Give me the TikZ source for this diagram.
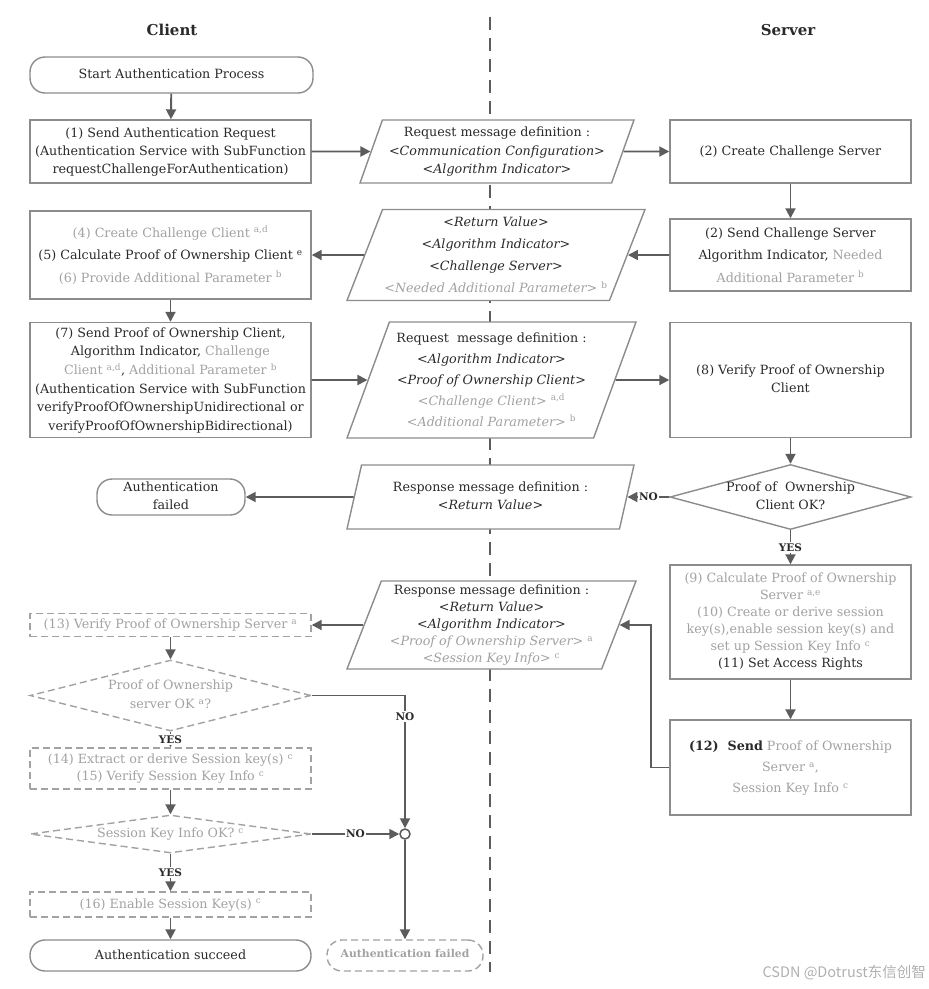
\documentclass[tikz,border=0pt]{standalone}
\usepackage{fontspec}
\setmainfont{DejaVu Serif}
\newfontfamily\cjkfont{Noto Sans CJK SC}
\usetikzlibrary{shapes.geometric,arrows.meta}
\definecolor{tdark}{HTML}{2A2A2A}
\definecolor{tgray}{HTML}{A2A2A2}
\definecolor{bord}{HTML}{8C8C8C}
\definecolor{arrc}{HTML}{5C5C5C}
\newcommand\gr[1]{{\color{tgray}#1}}
\newcommand\sps[1]{\textsuperscript{#1}}
\newcommand\ctext[1]{\makebox[0pt]{\begin{tabular}{@{}c@{}}#1\end{tabular}}}
\begin{document}
\begin{tikzpicture}[x=1pt,y=-1pt,
  every node/.style={text=tdark, inner sep=0pt},
  fs/.style={font=\fontsize{12.7}{#1}\selectfont},
  box/.style={draw=bord, line width=1.4pt, rectangle, fill=white},
  dbox/.style={box, draw=tgray, dash pattern=on 7pt off 4pt},
  term/.style={box, rounded corners=15pt},
  pgram/.style={draw=bord, line width=1.4pt, fill=white, trapezium,
    trapezium left angle=68, trapezium right angle=112, trapezium stretches body},
  dia/.style={draw=bord, line width=1.4pt, fill=white, diamond},
  ddia/.style={dia, draw=tgray, dash pattern=on 7pt off 4pt},
  arr/.style={draw=arrc, line width=1.9pt, -{Triangle[length=10pt,width=10pt]}},
  lbl/.style={fill=white, inner sep=1.5pt, font=\fontsize{10.5}{11}\selectfont\bfseries},
  divider/.style={draw=arrc, line width=1.3pt, dash pattern=on 13pt off 8pt},
  title/.style={font=\fontsize{15}{18}\selectfont\bfseries}
]
\useasboundingbox (0,0) rectangle (929,989);

% divider between client and server
\coordinate (divtop) at (490,17);
\coordinate (divbot) at (490,972);
\draw[divider] (divtop) -- (divbot);

% titles
\node[title] (tclient) at (172,30) {Client};
\node[title] (tserver) at (788,30) {Server};

% client side, top
\node[term, fs=18, minimum width=283, minimum height=36] (start) at (171.5,75)
  {\ctext{Start Authentication Process}};
\node[box, fs=18, minimum width=281, minimum height=63] (b1) at (170.5,151.5)
  {\ctext{(1) Send Authentication Request\\(Authentication Service with SubFunction\\requestChallengeForAuthentication)}};
\node[pgram, fs=18.5, minimum width=274, minimum height=63] (p1) at (497,151.5)
  {\ctext{Request message definition :\\\textit{<Communication Configuration>}\\\textit{<Algorithm Indicator>}}};
\node[box, fs=18, minimum width=241, minimum height=63] (b2a) at (790.5,151.5)
  {\ctext{(2) Create Challenge Server}};
\node[box, fs=22.5, minimum width=241, minimum height=72] (b2b) at (790.5,255)
  {\ctext{(2) Send Challenge Server\\Algorithm Indicator, \gr{Needed}\\\gr{Additional Parameter \sps{b}}}};
\node[pgram, fs=22, minimum width=298, minimum height=91] (p2) at (496,255)
  {\ctext{\textit{<Return Value>}\\\textit{<Algorithm Indicator>}\\\textit{<Challenge Server>}\\\gr{\textit{<Needed Additional Parameter>} \sps{b}}}};
\node[box, fs=22.5, minimum width=281, minimum height=88] (b46) at (170.5,255)
  {\ctext{\gr{(4) Create Challenge Client \sps{a,d}}\\(5) Calculate Proof of Ownership Client \sps{e}\\\gr{(6) Provide Additional Parameter \sps{b}}}};
\node[box, fs=18.6, minimum width=281, minimum height=115] (b7) at (170.5,380)
  {\ctext{(7) Send Proof of Ownership Client,\\Algorithm Indicator, \gr{Challenge}\\\gr{Client \sps{a,d}}, \gr{Additional Parameter \sps{b}}\\(Authentication Service with SubFunction\\verifyProofOfOwnershipUnidirectional or\\verifyProofOfOwnershipBidirectional)}};
\node[pgram, fs=21, minimum width=289, minimum height=116] (p3) at (491.5,380)
  {\ctext{Request\ \ message definition :\\\textit{<Algorithm Indicator>}\\\textit{<Proof of Ownership Client>}\\\gr{\textit{<Challenge Client>} \sps{a,d}}\\\gr{\textit{<Additional Parameter>} \sps{b}}}};
\node[box, fs=18, minimum width=241, minimum height=115] (b8) at (790.5,380)
  {\ctext{(8) Verify Proof of Ownership\\Client}};
\node[dia, fs=18, minimum width=241, minimum height=65] (d1) at (790.5,497)
  {\ctext{Proof of\ \ Ownership\\Client OK?}};
\node[pgram, fs=18, minimum width=287, minimum height=64] (p4) at (490.5,497)
  {\ctext{Response message definition :\\\textit{<Return Value>}}};
\node[term, fs=18, minimum width=148, minimum height=33] (af1) at (171,497)
  {\ctext{Authentication\\failed}};
\node[box, fs=17, minimum width=241, minimum height=114] (b911) at (790.5,622)
  {\ctext{\gr{(9) Calculate Proof of Ownership}\\\gr{Server \sps{a,e}}\\\gr{(10) Create or derive session}\\\gr{key(s),enable session key(s) and}\\\gr{set up Session Key Info \sps{c}}\\(11) Set Access Rights}};
\node[box, fs=21, minimum width=241, minimum height=95] (b12) at (790.5,767.5)
  {\ctext{\textbf{(12)\ \ Send} \gr{Proof of Ownership}\\\gr{Server \sps{a},}\\\gr{Session Key Info \sps{c}}}};
\node[pgram, fs=17, minimum width=289, minimum height=88] (p5) at (491.5,625)
  {\ctext{Response message definition :\\\textit{<Return Value>}\\\textit{<Algorithm Indicator>}\\\gr{\textit{<Proof of Ownership Server>} \sps{a}}\\\gr{\textit{<Session Key Info>} \sps{c}}}};

% client side, bottom (dashed)
\node[dbox, fs=18, minimum width=281, minimum height=23] (b13) at (170.5,625)
  {\ctext{\gr{(13) Verify Proof of Ownership Server \sps{a}}}};
\node[ddia, fs=19, minimum width=281, minimum height=71] (d2) at (170.5,695.5)
  {\ctext{\gr{Proof of Ownership}\\\gr{server OK \sps{a}?}}};
\node[dbox, fs=17, minimum width=281, minimum height=41] (b1415) at (170.5,768.5)
  {\ctext{\gr{(14) Extract or derive Session key(s) \sps{c}}\\\gr{(15) Verify Session Key Info \sps{c}}}};
\node[ddia, fs=18, minimum width=281, minimum height=38] (d3) at (170.5,834)
  {\ctext{\gr{Session Key Info OK? \sps{c}}}};
\node[dbox, fs=18, minimum width=281, minimum height=25] (b16) at (170.5,904.5)
  {\ctext{\gr{(16) Enable Session Key(s) \sps{c}}}};
\node[term, fs=18, minimum width=281, minimum height=31] (succ) at (170.5,955.5)
  {\ctext{Authentication succeed}};
\node[term, draw=tgray, dash pattern=on 7pt off 4pt, font=\fontsize{10.8}{12}\selectfont\bfseries,
  minimum width=156, minimum height=31] (af2) at (405,955.5)
  {\ctext{\gr{Authentication failed}}};
\node[circle, draw=arrc, line width=1.5pt, fill=white, minimum size=10] (circ) at (405,834) {};

% watermark
\node[anchor=east, text=tgray!85, font=\cjkfont\fontsize{14.5}{16}\selectfont] (wm) at (926,973)
  {CSDN @Dotrust东信创智};

% connectors
\draw[arr] (start) -- (b1);
\draw[arr] (b1) -- (p1);
\draw[arr] (p1) -- (b2a);
\draw[arr] (b2a) -- (b2b);
\draw[arr] (b2b) -- (p2);
\draw[arr] (p2) -- (b46);
\draw[arr] (b46) -- (b7);
\draw[arr] (b7) -- (p3);
\draw[arr] (p3) -- (b8);
\draw[arr] (b8) -- (d1);
\draw[arr] (d1) -- (p4) node[midway, lbl] {NO};
\draw[arr] (p4) -- (af1);
\draw[arr] (d1) -- (b911) node[midway, lbl] {YES};
\draw[arr] (b911) -- (b12);
\draw[arr] (b12.west) -- ++(-18,0) |- (p5.right side);
\draw[arr] (p5) -- (b13);
\draw[arr] (b13) -- (d2);
\draw[arr] (d2.east) -| (circ.north) node[pos=0.58, lbl] {NO};
\draw[arr] (d2) -- (b1415) node[midway, lbl] {YES};
\draw[arr] (b1415) -- (d3);
\draw[arr] (d3) -- (circ) node[midway, lbl] {NO};
\draw[arr] (d3) -- (b16) node[midway, lbl] {YES};
\draw[arr] (b16) -- (succ);
\draw[arr] (circ) -- (af2);
\end{tikzpicture}
\end{document}
